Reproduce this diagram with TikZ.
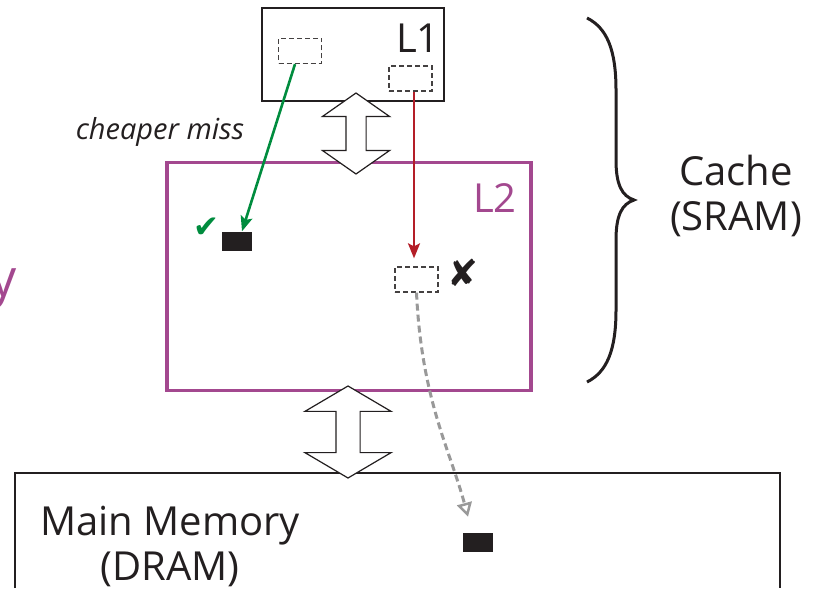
\documentclass[tikz,border=0pt]{standalone}
\usepackage{fontspec}
\setmainfont{Open Sans}
\newfontfamily\symfont{DejaVu Sans}
\usetikzlibrary{positioning,arrows.meta,shapes.arrows}
\definecolor{ltwo}{RGB}{163,72,143}
\definecolor{hitgreen}{RGB}{0,140,62}
\definecolor{missred}{RGB}{180,30,40}
\definecolor{ink}{RGB}{35,31,32}

\begin{document}
\begin{tikzpicture}[x=1pt,y=-1pt,
    slot/.style={draw=ink!85,dash pattern=on 5pt off 3pt,line width=1.3pt,minimum width=43pt,minimum height=25pt,inner sep=0pt},
    block/.style={fill=ink,minimum width=30pt,minimum height=19pt,inner sep=0pt},
    bus/.style={double arrow,draw=ink,line width=1.2pt,fill=white,rotate=90,inner xsep=0pt},
    big/.style={text=ink,font=\fontsize{40}{45}\selectfont,inner sep=0pt}]
        \useasboundingbox (0,0) rectangle (818,596);
        \node[text=ltwo,font=\fontsize{52}{60}\selectfont,inner sep=0pt,anchor=base east] (ytail) at (17,296) {y};
        \node[draw=ink,line width=1.4pt,minimum width=182pt,minimum height=93pt,inner sep=0pt] (l1) at (353,54.5) {};
        \node[draw=ltwo,line width=3.5pt,minimum width=364pt,minimum height=228pt,inner sep=0pt] (l2) at (349,276.5) {};
        \draw[ink,line width=1.8pt] (15,588) -- (15,473) -- (780,473) -- (780,588);
        \node[big,anchor=base east] (l1name) at (440,53) {L1};
        \node[big,text=ltwo,anchor=base east] (l2name) at (517,212) {L2};
        \node[big,align=center] (dram) at (170,546) {Main Memory\\(DRAM)};
        \node[big,align=center] (sram) at (736,196) {Cache\\(SRAM)};
        \node[bus,minimum height=81pt,inner ysep=9.5pt,double arrow head extend=23.5pt,double arrow tip angle=110] (bus1) at (356,133.5) {};
        \node[bus,minimum height=92pt,inner ysep=11.5pt,double arrow head extend=31pt,double arrow tip angle=119] (bus2) at (348,432) {};
        \node[slot] (l1a) at (300,51) {};
        \node[slot] (l1b) at (410.5,78.5) {};
        \node[slot] (l2miss) at (416.5,279.5) {};
        \node[block] (hitblk) at (237,241) {};
        \node[block] (memblk) at (478,542.5) {};
        \node[text=hitgreen,font=\symfont\fontsize{31}{34}\selectfont,inner sep=0pt] (tick) at (206,228) {✔};
        \node[text=ink,font=\symfont\fontsize{37}{40}\selectfont,inner sep=0pt] (cross) at (462.5,272.5) {✘};
        \node[text=ink,font=\itshape\fontsize{29}{32}\selectfont,inner sep=0pt,anchor=base] (cheap) at (160,140) {cheaper miss};
        \draw[hitgreen,line width=2.6pt,-{Stealth[length=15pt,width=12pt,inset=3pt]}] ([xshift=-5pt]l1a.south) -- ([xshift=5pt]hitblk.north);
        \draw[missred,line width=2.2pt,shorten >=8pt,-{Stealth[length=15pt,width=12pt,inset=3pt]}] ([xshift=3.5pt]l1b.south) -- ([xshift=3.5pt]l1b.south |- l2miss.north);
        \coordinate (memin) at ([xshift=-10pt,yshift=16pt]memblk.north);
        \draw[black!40,line width=3pt,dash pattern=on 7pt off 4pt,-{Triangle[open,length=14pt,width=15pt,line width=2.5pt]}] (l2miss.south) .. controls +(5,107) and +(-18,-67) .. (memin);
        \draw[ink,line width=3pt] (587,18) .. controls (607,28) and (616,50) .. (616,90) -- (616,160) .. controls (616,185) and (622,196) .. (634,200) .. controls (622,204) and (616,215) .. (616,240) -- (616,310) .. controls (616,350) and (607,372) .. (587,382);
    \end{tikzpicture}
\end{document}
